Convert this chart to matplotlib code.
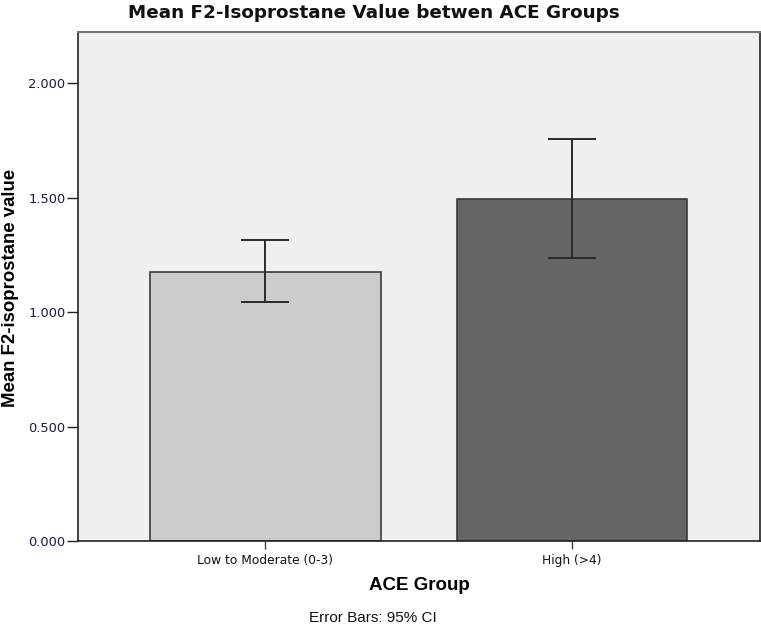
import matplotlib
matplotlib.use("Agg")
import matplotlib.pyplot as plt
import numpy as np

# ACE groups and mean F2-isoprostane values with 95% CI bounds
groups = ["Low to Moderate (0-3)", "High (>4)"]
means = [1.176, 1.495]
ci_low = [1.045, 1.237]
ci_high = [1.314, 1.754]
bar_colors = ["#cccccc", "#666666"]
y_ticks = [0.0, 0.5, 1.0, 1.5, 2.0]

fig = plt.figure(figsize=(7.61, 6.29), dpi=100)
ax = fig.add_axes([0.1025, 0.1399, 0.8962, 0.8092])
ax.set_facecolor("#f0f0f0")

x = np.arange(len(groups))
means = np.array(means)
yerr = np.vstack([means - np.array(ci_low), np.array(ci_high) - means])

ax.bar(x, means, width=0.752, color=bar_colors, edgecolor="#3a3a3a", lw=1.2, zorder=2)
ax.errorbar(x, means, yerr=yerr, fmt="none", ecolor="#2a2a2a", elinewidth=1.4,
            capsize=17, capthick=1.4, zorder=3)

ax.set_xlim(-0.611, 1.614)
ax.set_ylim(0, 2.2227)
ax.set_xticks(x)
ax.set_xticklabels(groups, fontsize=8.8, family="DejaVu Sans", color="#111111")
ax.set_yticks(y_ticks)
ax.set_yticklabels([f"{v:.3f}" for v in y_ticks], fontsize=9.4,
                   family="DejaVu Sans", color="#1a1a40")
ax.tick_params(axis="y", length=8, width=1, color="#222222", pad=1)
ax.tick_params(axis="x", length=6, width=1, color="#444444", pad=3)

for side in ["left", "bottom", "right"]:
    ax.spines[side].set_color("#222222")
    ax.spines[side].set_linewidth(1.2)
ax.spines["top"].set_color("#777777")
ax.spines["top"].set_linewidth(1.5)

ax.set_ylabel("Mean F2-isoprostane value", fontsize=13.4, fontweight="bold",
              family="Liberation Sans", va="center")
ax.yaxis.set_label_coords(-0.099, 0.497)
ax.set_xlabel("ACE Group", fontsize=13.5, fontweight="bold",
              family="Liberation Sans", va="center")
ax.xaxis.set_label_coords(0.5, -0.0874)

fig.text(0.4915, 0.971, "Mean F2-Isoprostane Value betwen ACE Groups",
         ha="center", va="baseline", fontsize=13.2, fontweight="bold",
         family="DejaVu Sans", color="#111111")
fig.text(0.490, 0.0175, "Error Bars: 95% CI", ha="center", va="center",
         fontsize=11, family="Liberation Sans", color="#111111")

fig.savefig("out.png", dpi=100)
